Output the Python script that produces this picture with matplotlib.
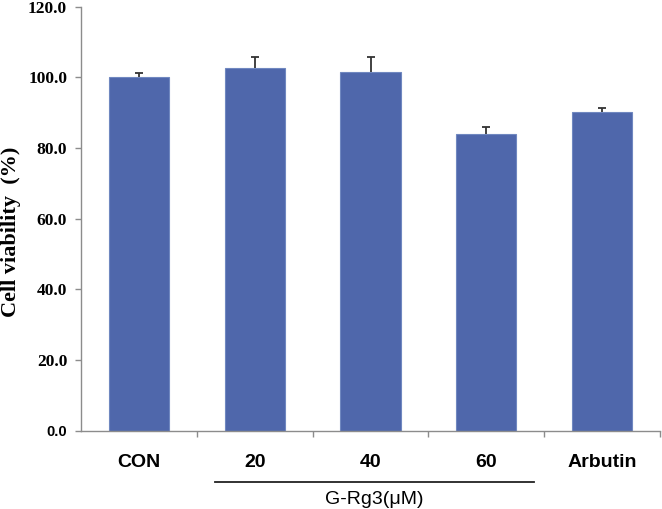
import numpy as np
import matplotlib
matplotlib.use("Agg")
from matplotlib import pyplot as plt
from matplotlib import transforms

# data
groups = ["CON", "20", "40", "60", "Arbutin"]
viability = [100.0, 102.5, 101.4, 84.0, 90.3]
viability_err = [1.1, 3.2, 4.3, 2.0, 1.1]
y_ticks = [0, 20, 40, 60, 80, 100, 120]
y_tick_labels = ["0.0", "20.0", "40.0", "60.0", "80.0", "100.0", "120.0"]
bracket_groups = ["20", "40", "60"]

BAR_COLOR = "#4f67ab"
AXIS_COLOR = "#8c8c8c"


def main():
    fig = plt.figure(figsize=(6.62, 5.09), dpi=100)
    ax = fig.add_axes([0.1224, 0.1538, 0.8746, 0.8332])

    x = np.arange(len(groups))
    ax.bar(x, viability, width=0.52, color=BAR_COLOR, edgecolor="#7088c0", linewidth=0.8, zorder=2)
    # only the upper half of the error bar is drawn
    _, caps, _ = ax.errorbar(x, viability, yerr=[np.zeros(len(x)), viability_err], fmt="none",
                             ecolor="#333333", elinewidth=1.3, capsize=3.2, capthick=1.3, zorder=3)
    caps[0].set_visible(False)  # lower caps

    ax.set_xlim(-0.5, len(groups) - 0.5)
    ax.set_ylim(0, 120)

    for side in ["top", "right"]:
        ax.spines[side].set_visible(False)
    for side in ["left", "bottom"]:
        ax.spines[side].set_color(AXIS_COLOR)
        ax.spines[side].set_linewidth(1.0)

    ax.set_yticks(y_ticks)
    ax.set_yticklabels(y_tick_labels, fontfamily="Liberation Serif", fontweight="bold", fontsize=12.5)
    ax.tick_params(axis="y", direction="out", length=4, width=1, color=AXIS_COLOR, pad=6)

    # x axis: labels under bars, small ticks between categories
    ax.set_xticks(x)
    ax.set_xticklabels(groups, fontfamily="Liberation Sans", fontweight="bold", fontsize=14)
    ax.tick_params(axis="x", which="major", length=0, pad=17)
    ax.set_xticks(np.arange(0.5, len(groups)), minor=True)
    ax.tick_params(axis="x", which="minor", direction="out", length=4, width=1, color=AXIS_COLOR)

    ax.set_ylabel("Cell viability  (%)", fontfamily="Liberation Serif", fontweight="bold", fontsize=16)
    ax.yaxis.set_label_coords(-0.103, 0.47)

    # bracket under the G-Rg3 doses
    i0 = groups.index(bracket_groups[0])
    i1 = groups.index(bracket_groups[-1])
    trans = transforms.blended_transform_factory(ax.transData, fig.transFigure)
    ax.plot([i0 - 0.34, i1 + 0.41], [0.0525, 0.0525], transform=trans, color="#222222",
            lw=1.3, clip_on=False)
    ax.text((i0 + i1) / 2 + 0.03, 0.018, "G-Rg3(μM)", transform=trans, ha="center", va="center",
            fontfamily="Liberation Sans", fontsize=14)

    # the 0.0 label is a sans font in the original
    fig.canvas.draw()
    zero = ax.get_yticklabels()[0]
    zero.set_fontfamily("Liberation Sans")
    zero.set_fontsize(10.5)

    fig.savefig("out.png", dpi=100)


if __name__ == "__main__":
    main()
